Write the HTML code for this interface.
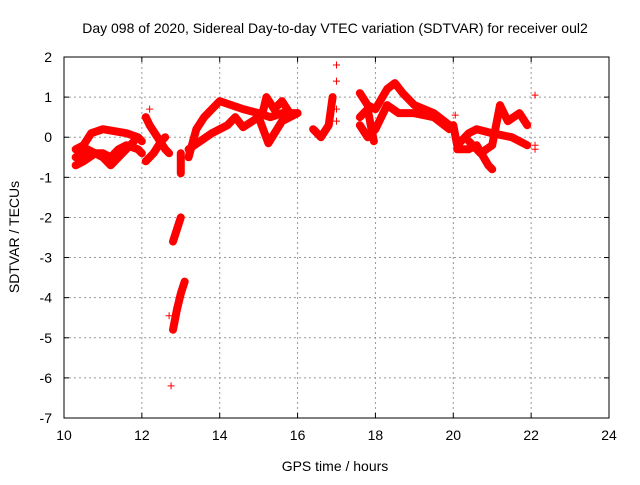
<!DOCTYPE html>
<html><head><meta charset="utf-8"><style>
body{margin:0;background:#fff}
svg text{font-family:"Liberation Sans",sans-serif;font-size:14px;fill:#000}
</style></head><body>
<svg id="chart" width="640" height="480">
<text x="335" y="33" text-anchor="middle">Day 098 of 2020, Sidereal Day-to-day VTEC variation (SDTVAR) for receiver oul2</text>
<text x="335" y="471" text-anchor="middle">GPS time / hours</text>
<text transform="translate(19,237) rotate(-90)" text-anchor="middle">SDTVAR / TECUs</text>
<g id="grid"></g><g id="marks"></g>
<rect x="64" y="57" width="545" height="361" fill="none" stroke="#000"/>
<g id="ticks"></g>
</svg>
<script>
const xTicks=[10,12,14,16,18,20,22,24];
const yTicks=[2,1,0,-1,-2,-3,-4,-5,-6,-7];
const tracks=[
[[10.3,-0.3],[10.5,-0.2],[10.7,0.1],[11.0,0.2],[11.3,0.15],[11.6,0.1],[11.9,0.0],[12.0,-0.1]],
[[10.3,-0.7],[10.5,-0.6],[10.8,-0.4],[11.0,-0.4],[11.2,-0.5],[11.4,-0.3],[11.6,-0.2],[11.9,-0.3],[12.0,-0.4]],
[[10.3,-0.5],[10.6,-0.3],[11.0,-0.5],[11.2,-0.7],[11.5,-0.4],[11.8,-0.1]],
[[12.1,0.5],[12.2,0.3],[12.4,0.0],[12.6,-0.3],[12.7,-0.4]],
[[12.1,-0.6],[12.3,-0.4],[12.5,-0.1],[12.6,0.0]],
[[13.0,-0.4],[13.0,-0.9]],
[[12.8,-2.6],[12.9,-2.3],[13.0,-2.0]],
[[12.8,-4.8],[12.9,-4.3],[13.0,-3.9],[13.1,-3.6]],
[[13.2,-0.5],[13.4,0.2],[13.6,0.5],[13.8,0.7],[14.0,0.9],[14.3,0.8],[14.6,0.7],[15.0,0.6],[15.3,0.5],[15.6,0.6],[16.0,0.6]],
[[13.2,-0.3],[13.5,-0.1],[13.8,0.1],[14.2,0.3],[14.4,0.5],[14.6,0.25],[15.0,0.5],[15.25,-0.15],[15.6,0.4],[16.0,0.6]],
[[15.1,0.6],[15.2,1.0],[15.4,0.7],[15.6,0.9],[15.8,0.6]],
[[16.4,0.2],[16.6,0.0],[16.8,0.3],[16.9,1.0]],
[[17.6,1.1],[17.8,0.8],[18.0,0.7],[18.3,1.2],[18.5,1.35],[18.7,1.1],[19.0,0.8],[19.5,0.6],[19.9,0.3]],
[[17.6,0.3],[17.8,0.0],[18.0,0.2],[18.3,0.8],[18.6,0.6],[19.0,0.6],[19.5,0.5],[19.9,0.2]],
[[17.6,0.5],[17.8,0.7],[17.96,-0.1]],
[[20.0,0.3],[20.1,-0.2],[20.4,0.1],[20.6,0.2],[21.0,0.1],[21.5,0.0],[21.9,-0.2]],
[[20.1,-0.3],[20.4,-0.3],[20.6,-0.2],[20.9,-0.7],[21.0,-0.8]],
[[20.4,-0.1],[20.7,-0.4],[21.0,-0.2],[21.2,0.8],[21.4,0.4],[21.7,0.6],[21.9,0.3]]
];
const singles=[[12.75,-6.2],[12.7,-4.45],[17.0,1.8],[17.0,1.4],[17.0,0.7],[17.0,0.4],[22.1,1.05],[22.1,-0.2],[22.1,-0.3],[20.05,0.55],[12.2,0.7]];
const NS="http://www.w3.org/2000/svg";
const X=v=>64+(v-10)*545/14, Y=v=>57+(2-v)*361/9;
function mk(t,a,p){const e=document.createElementNS(NS,t);for(const k in a)e.setAttribute(k,a[k]);p.appendChild(e);return e;}
const grid=document.getElementById('grid'),ticks=document.getElementById('ticks'),marks=document.getElementById('marks');
xTicks.forEach(t=>{const x=X(t);
 if(t>10&&t<24){const g=mk('line',{x1:x,x2:x,y1:57,y2:418,stroke:'#999','stroke-dasharray':'2,3'},grid);
 }
 mk('line',{x1:x,x2:x,y1:418,y2:413,stroke:'#000'},ticks);mk('line',{x1:x,x2:x,y1:57,y2:62,stroke:'#000'},ticks);
 const l=mk('text',{x:x,y:440,'text-anchor':'middle'},ticks);l.textContent=t;
 });
yTicks.forEach(t=>{const y=Y(t);
 if(t<2&&t>-7){const g=mk('line',{x1:64,x2:609,y1:y,y2:y,stroke:'#999','stroke-dasharray':'2,3'},grid);
 }
 mk('line',{x1:64,x2:69,y1:y,y2:y,stroke:'#000'},ticks);mk('line',{x1:609,x2:604,y1:y,y2:y,stroke:'#000'},ticks);
 const l=mk('text',{x:52,y:y+5,'text-anchor':'end'},ticks);l.textContent=t;
 });
function plus(p){const x=X(p[0]),y=Y(p[1]);
 const e=mk('path',{d:`M${x-3.5},${y}h7M${x},${y-3.5}v7`,stroke:'#f00','stroke-width':1},marks);
 }
tracks.forEach(tr=>{
 const l=mk('polyline',{points:tr.map(p=>X(p[0])+','+Y(p[1])).join(' '),fill:'none',stroke:'#f00','stroke-width':8,'stroke-linejoin':'round','stroke-linecap':'round'},marks);
 
 tr.forEach(plus);});
singles.forEach(plus);
</script>
</body></html>
